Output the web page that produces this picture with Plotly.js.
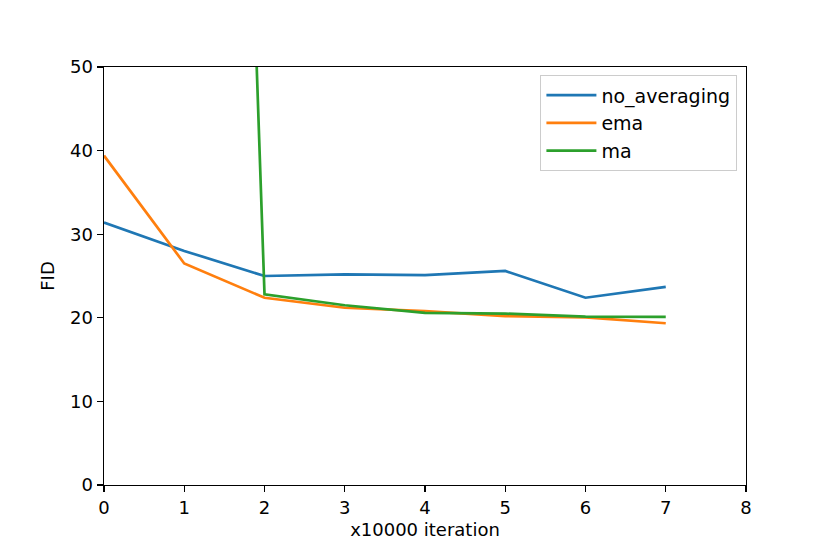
<!DOCTYPE html>
<html>
<head>
<meta charset="utf-8">
<script src="https://cdn.plot.ly/plotly-3.0.1.min.js"></script>
<style>
  html, body { margin: 0; padding: 0; background: #fff; }
  #chart { width: 830px; height: 554px; }
</style>
</head>
<body>
<div id="chart"></div>
<script>
// iterations (x10000)
const iters = [0, 1, 2, 3, 4, 5, 6, 7];
const maIters = [1, 2, 3, 4, 5, 6, 7];

// FID values
const noAveraging = [31.4, 28.0, 25.0, 25.2, 25.1, 25.6, 22.4, 23.7];
const ema = [39.4, 26.5, 22.4, 21.2, 20.8, 20.2, 20.05, 19.35];
const ma = [303, 22.8, 21.5, 20.6, 20.5, 20.15, 20.1];

const colors = ['#1f77b4', '#ff7f0e', '#2ca02c'];
const font = { family: 'DejaVu Sans, sans-serif', size: 18, color: '#000' };
const legendFont = { family: 'DejaVu Sans, sans-serif', size: 19, color: '#000' };

const traces = [
    { x: iters, y: noAveraging, name: 'no_averaging' },
    { x: iters, y: ema, name: 'ema' },
    { x: maIters, y: ma, name: 'ma' }
].map((t, i) => ({
    ...t,
    type: 'scatter',
    mode: 'lines',
    line: { color: colors[i], width: 2.7 },
    hoverinfo: 'skip'
}));

const axisBase = {
    showline: true,
    linecolor: '#000',
    linewidth: 1.4,
    mirror: true,
    showgrid: false,
    zeroline: false,
    ticks: 'outside',
    ticklen: 6,
    tickwidth: 1.4,
    tickcolor: '#000',
    tickfont: font
};

const layout = {
    width: 830,
    height: 554,
    margin: { l: 104, r: 84, t: 67, b: 69 },
    paper_bgcolor: '#fff',
    plot_bgcolor: '#fff',
    font: font,
    showlegend: true,
    hovermode: false,
    xaxis: {
        ...axisBase,
        range: [0, 8],
        dtick: 1,
        title: { text: 'x10000 iteration', font: font, standoff: 6 }
    },
    yaxis: {
        ...axisBase,
        range: [0, 50],
        dtick: 10,
        title: { text: 'FID', font: font, standoff: 10 }
    },
    legend: {
        x: 0.986,
        y: 0.981,
        xanchor: 'right',
        yanchor: 'top',
        bgcolor: 'rgba(255,255,255,0.8)',
        bordercolor: '#cccccc',
        borderwidth: 1.4,
        font: legendFont,
        itemwidth: 50,
        tracegroupgap: 0
    }
};

Plotly.newPlot('chart', traces, layout, { displayModeBar: false, staticPlot: true });
</script>
</body>
</html>
